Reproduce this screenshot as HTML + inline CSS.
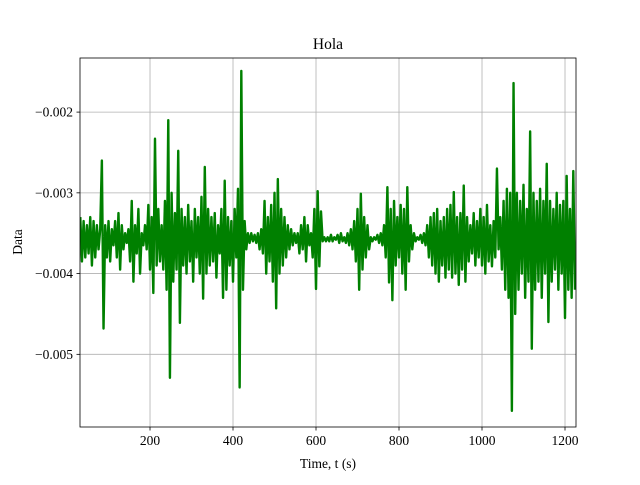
<!DOCTYPE html>
<html><head><meta charset="utf-8"><style>
html,body{margin:0;padding:0;background:#fff;}
svg text{font-family:"Liberation Serif",serif;fill:#000;}
</style></head><body>
<svg id="chart" width="640" height="480" viewBox="0 0 640 480" xmlns="http://www.w3.org/2000/svg">
<defs><clipPath id="plotclip"><rect x="80" y="58" width="496" height="369"/></clipPath></defs>
<rect x="0" y="0" width="640" height="480" fill="#fff"/>
<g id="grid"></g>
<g id="series" clip-path="url(#plotclip)"></g>
<rect x="80" y="58" width="496" height="369" fill="none" stroke="#000" stroke-width="0.8"/>
<g id="axes"></g>
<text x="328" y="49" text-anchor="middle" font-size="15.5">Hola</text>
<text x="328" y="468" text-anchor="middle" font-size="13.5">Time, t (s)</text>
<text x="22" y="242" text-anchor="middle" font-size="13.5" transform="rotate(-90 22 242)">Data</text>
</svg>
<script>
const tStart = 32;
const tStep = 4;
const values = [
-3.30,-3.85,-3.35,-3.80,-3.40,-3.75,-3.30,-3.90,-3.35,-3.80,
-3.40,-3.70,-3.45,-2.60,-4.68,-3.40,-3.80,-3.35,-3.85,-3.45,
-3.65,-3.35,-3.80,-3.25,-3.95,-3.40,-3.70,-3.50,-3.62,-3.45,
-3.85,-3.10,-4.10,-3.40,-3.75,-3.20,-4.00,-3.50,-3.65,-3.40,
-3.70,-3.15,-3.95,-3.30,-4.24,-2.33,-3.90,-3.20,-3.85,-3.40,
-3.95,-3.10,-4.20,-2.10,-5.29,-3.00,-4.10,-3.25,-3.95,-2.48,
-4.61,-3.20,-3.90,-3.30,-4.00,-3.15,-3.85,-3.35,-4.10,-3.20,
-3.80,-3.30,-4.00,-3.05,-4.31,-2.68,-4.00,-3.20,-3.90,-3.30,
-3.85,-3.25,-4.05,-3.40,-3.75,-3.20,-4.30,-2.85,-4.20,-3.30,
-3.90,-3.35,-4.10,-3.20,-3.80,-2.95,-5.41,-1.49,-4.20,-3.35,
-3.70,-3.50,-3.62,-3.50,-3.60,-3.52,-3.62,-3.50,-3.70,-3.45,
-3.75,-3.10,-4.00,-3.30,-3.85,-3.15,-4.10,-3.00,-4.43,-2.83,
-4.00,-3.20,-3.90,-3.30,-3.80,-3.40,-3.70,-3.45,-3.65,-3.50,
-3.62,-3.50,-3.75,-3.40,-3.70,-3.30,-3.85,-3.40,-3.65,-3.50,
-3.80,-3.20,-4.19,-2.98,-3.91,-3.23,-3.60,-3.55,-3.60,-3.55,
-3.60,-3.52,-3.60,-3.55,-3.58,-3.52,-3.62,-3.50,-3.60,-3.55,
-3.62,-3.50,-3.65,-3.45,-3.70,-3.35,-3.85,-3.20,-4.20,-3.01,
-3.95,-3.30,-3.80,-3.40,-3.70,-3.55,-3.60,-3.55,-3.58,-3.52,
-3.62,-3.50,-3.65,-3.40,-3.80,-2.93,-4.11,-3.20,-4.33,-3.10,
-3.90,-3.30,-3.80,-3.15,-4.00,-3.20,-4.20,-2.93,-3.85,-3.40,
-3.70,-3.50,-3.60,-3.55,-3.58,-3.52,-3.62,-3.50,-3.65,-3.40,
-3.80,-3.30,-3.90,-3.25,-4.00,-3.20,-4.10,-3.35,-3.90,-3.30,
-4.05,-3.20,-3.95,-3.15,-4.05,-2.99,-4.00,-3.30,-4.14,-3.25,
-3.95,-2.91,-4.10,-3.30,-3.85,-3.40,-3.75,-3.25,-3.90,-3.35,
-3.80,-3.20,-3.90,-3.30,-4.00,-3.15,-3.85,-3.40,-3.91,-3.35,
-3.80,-2.70,-3.70,-3.30,-3.95,-3.10,-4.20,-2.95,-4.30,-3.00,
-5.70,-1.64,-4.50,-3.00,-4.20,-3.10,-4.00,-2.90,-4.30,-3.20,
-4.10,-2.24,-4.93,-3.00,-4.20,-3.10,-4.10,-2.95,-4.30,-3.10,
-4.00,-2.64,-4.60,-3.10,-4.10,-3.20,-3.95,-3.00,-4.20,-3.15,
-4.00,-3.10,-4.55,-2.79,-4.20,-3.20,-4.30,-2.73,-4.20
];
const valueScale = 0.001;
const xTicks = [200, 400, 600, 800, 1000, 1200];
const xTickLabels = ["200", "400", "600", "800", "1000", "1200"];
const yTicks = [-0.002, -0.003, -0.004, -0.005];
const yTickLabels = ["\u22120.002", "\u22120.003", "\u22120.004", "\u22120.005"];

const NS = "http://www.w3.org/2000/svg";
const X0 = 80, X1 = 576, Y0 = 58, Y1 = 427;
const xMin = 31.3, xMax = 1226.5;
const yMin = -0.00590, yMax = -0.001330;
function xs(t){ return X0 + (t - xMin) / (xMax - xMin) * (X1 - X0); }
function ys(v){ return Y1 - (v - yMin) / (yMax - yMin) * (Y1 - Y0); }
function mk(tag, attrs){ const e = document.createElementNS(NS, tag); for (const k in attrs) e.setAttribute(k, attrs[k]); return e; }

const grid = document.getElementById('grid');
const axes = document.getElementById('axes');
xTicks.forEach((t, i) => {
  const x = xs(t);
  const gl = mk('line', {x1:x, x2:x, y1:Y0, y2:Y1, stroke:'#b0b0b0', 'stroke-width':0.8});
  
  
  grid.appendChild(gl);
  const tk = mk('line', {x1:x, x2:x, y1:Y1, y2:Y1+3.5, stroke:'#000', 'stroke-width':0.8});
  
  
  axes.appendChild(tk);
  const tx = mk('text', {x:x, y:Y1+18, 'text-anchor':'middle', 'font-size':13.5});
  
  
  tx.textContent = xTickLabels[i];
  axes.appendChild(tx);
});
yTicks.forEach((v, i) => {
  const y = ys(v);
  const gl = mk('line', {x1:X0, x2:X1, y1:y, y2:y, stroke:'#b0b0b0', 'stroke-width':0.8});
  
  
  grid.appendChild(gl);
  const tk = mk('line', {x1:X0-3.5, x2:X0, y1:y, y2:y, stroke:'#000', 'stroke-width':0.8});
  
  
  axes.appendChild(tk);
  const tx = mk('text', {x:X0-7, y:y+4.5, 'text-anchor':'end', 'font-size':13.5});
  
  
  tx.textContent = yTickLabels[i];
  axes.appendChild(tx);
});
let d = '';
values.forEach((v, i) => {
  const t = tStart + i * tStep;
  d += (i ? 'L' : 'M') + xs(t).toFixed(2) + ',' + ys(v * valueScale).toFixed(2);
});
const line = mk('path', {d:d, fill:'none', stroke:'#008000', 'stroke-width':2.4, 'stroke-linejoin':'round'});


document.getElementById('series').appendChild(line);
</script>
</body></html>
